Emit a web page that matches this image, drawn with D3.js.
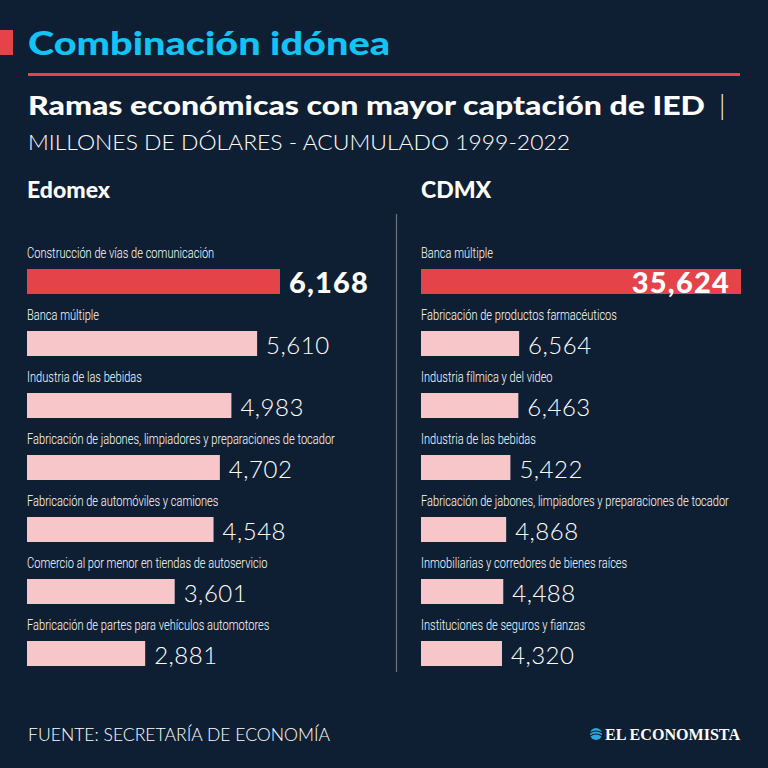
<!DOCTYPE html>
<html><head><meta charset="utf-8">
<script src="https://cdn.jsdelivr.net/npm/d3@7"></script>
<style>html,body{margin:0;padding:0;background:#0f1f33;}svg{display:block}</style>
</head><body>
<script>
const edomexCategories = ["Construcción de vías de comunicación","Banca múltiple","Industria de las bebidas","Fabricación de jabones, limpiadores y preparaciones de tocador","Fabricación de automóviles y camiones","Comercio al por menor en tiendas de autoservicio","Fabricación de partes para vehículos automotores"];
const edomexValues = [6168,5610,4983,4702,4548,3601,2881];
const cdmxCategories = ["Banca múltiple","Fabricación de productos farmacéuticos","Industria fílmica y del video","Industria de las bebidas","Fabricación de jabones, limpiadores y preparaciones de tocador","Inmobiliarias y corredores de bienes raíces","Instituciones de seguros y fianzas"];
const cdmxValues = [35624,6564,6463,5422,4868,4488,4320];

const W=768,H=768;
const bg="#0f1f33", red="#e5434a", pink="#f6c6c9", cyan="#14c3f5";
const svg=d3.select("body").append("svg").attr("width",W).attr("height",H);
svg.append("rect").attr("width",W).attr("height",H).attr("fill",bg);

const boldFont="'Lato','Open Sans',sans-serif";
const narrow="'Roboto','Lato',sans-serif";

// header
svg.append("rect").attr("x",0).attr("y",30).attr("width",13).attr("height",25).attr("fill",red);
svg.append("text").attr("x",28).attr("y",55).text("Combinación idónea")
  .attr("fill",cyan).attr("font-family",boldFont).attr("font-weight",900).attr("font-size",33)
  .attr("textLength",362).attr("lengthAdjust","spacingAndGlyphs");
svg.append("rect").attr("x",28).attr("y",73).attr("width",712).attr("height",3).attr("fill",red);
svg.append("text").attr("x",28).attr("y",115).attr("fill","#fff").attr("font-family",boldFont).attr("font-size",27)
  .attr("font-weight",900).text("Ramas económicas con mayor captación de IED")
  .attr("textLength",677).attr("lengthAdjust","spacingAndGlyphs");
svg.append("text").attr("x",719).attr("y",115).attr("fill","#fff").attr("font-family",boldFont).attr("font-size",27)
  .attr("font-weight",300).text("|");
svg.append("text").attr("x",28).attr("y",150).text("MILLONES DE DÓLARES - ACUMULADO 1999-2022")
  .attr("fill","#fff").attr("font-family",boldFont).attr("font-weight",300).attr("font-size",21)
  .attr("textLength",542).attr("lengthAdjust","spacingAndGlyphs");

// divider
svg.append("line").attr("x1",396.5).attr("x2",396.5).attr("y1",214).attr("y2",672).attr("stroke","#6b7480").attr("stroke-width",1.2);

const fmt=d3.format(",");
const y=d3.scaleBand().domain(d3.range(7)).range([240,674]).paddingInner(0).paddingOuter(0);

function panel(x0,title,cats,vals,xScale,insideFirst){
  const g=svg.append("g").attr("transform",`translate(${x0},0)`);
  g.append("text").attr("x",0).attr("y",198).text(title).attr("fill","#fff")
   .attr("font-family",boldFont).attr("font-weight",900).attr("font-size",23);
  const rows=g.selectAll("g.row").data(vals.map((v,i)=>({v,c:cats[i],i}))).join("g").attr("class","row")
    .attr("transform",d=>`translate(0,${y(d.i)})`);
  rows.append("text").attr("transform","translate(0,18) scale(0.715,1)").text(d=>d.c).attr("fill","#fff")
    .attr("font-family",narrow).attr("font-weight",300).attr("font-size",15.5);
  rows.append("rect").attr("x",0).attr("y",29).attr("height",25)
    .attr("width",d=>xScale(d.v)).attr("fill",d=>d.i===0?red:pink);
  rows.append("text")
    .attr("x",d=>d.i===0&&insideFirst? xScale(d.v)-11 : xScale(d.v)+9)
    .attr("y",d=>d.i===0?53:52)
    .attr("text-anchor",d=>d.i===0&&insideFirst?"end":"start")
    .text(d=>fmt(d.v)).attr("fill","#fff")
    .attr("font-family",boldFont)
    .attr("font-weight",d=>d.i===0?900:300)
    .attr("font-size",d=>d.i===0?29:24)
    .attr("letter-spacing",d=>d.i===0?1.2:0.5);
}
const xE=d3.scaleLinear().domain([0,d3.max(edomexValues)]).range([0,253]);
const xC=d3.scaleLinear().domain([0,d3.max(cdmxValues)]).range([48,320]);
panel(27,"Edomex",edomexCategories,edomexValues,xE,false);
panel(421,"CDMX",cdmxCategories,cdmxValues,xC,true);

// footer
svg.append("text").attr("x",28).attr("y",741).text("FUENTE: SECRETARÍA DE ECONOMÍA")
  .attr("fill","#fff").attr("font-family",boldFont).attr("font-weight",300).attr("font-size",17)
  .attr("textLength",302).attr("lengthAdjust","spacingAndGlyphs");
const lg=svg.append("g");
lg.append("circle").attr("cx",596).attr("cy",734).attr("r",6).attr("fill","#2aa7dc");
lg.append("path").attr("d","M590,733 Q596,729 602,733 M590,736 Q596,732 602,736").attr("stroke","#0f1f33").attr("stroke-width",1.2).attr("fill","none");
lg.append("text").attr("x",605).attr("y",740).text("EL ECONOMISTA").attr("fill","#fff")
  .attr("font-family","'Liberation Serif','DejaVu Serif',serif").attr("font-weight",700).attr("font-size",17)
  .attr("textLength",135).attr("lengthAdjust","spacingAndGlyphs");
</script>
</body></html>
